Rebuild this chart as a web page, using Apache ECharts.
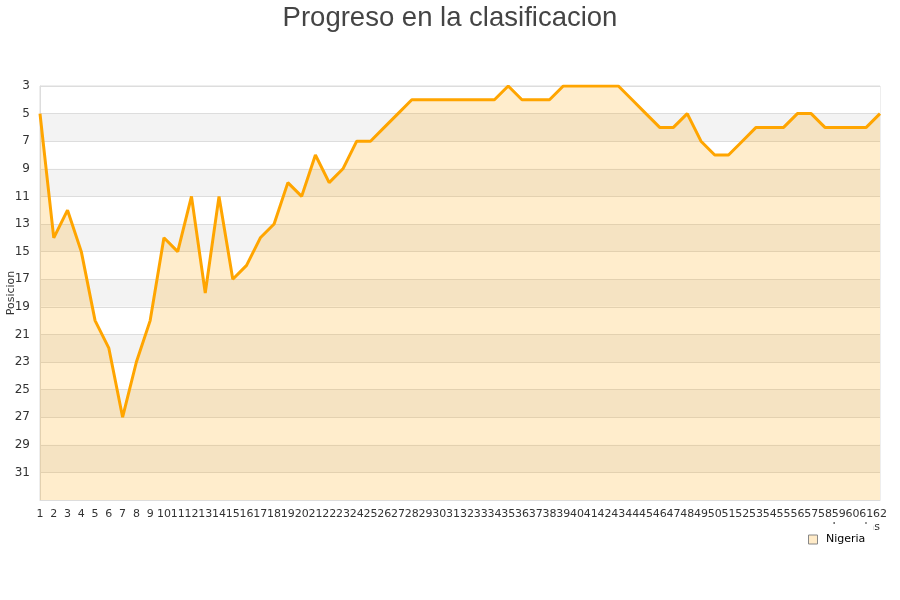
<!DOCTYPE html>
<html>
<head>
<meta charset="utf-8">
<script src="https://cdn.jsdelivr.net/npm/echarts@6/dist/echarts.min.js"></script>
<style>html,body{margin:0;padding:0;background:#fff}#c{width:900px;height:600px}</style>
</head>
<body>
<div id="c"></div>
<script>
var jornadas = [];
for (var i = 1; i <= 62; i++) jornadas.push(String(i));
var nigeria = [5,14,12,15,20,22,27,23,20,14,15,11,18,11,17,16,14,13,10,11,8,10,9,7,7,6,5,4,4,4,4,4,4,4,3,4,4,4,3,3,3,3,3,4,5,6,6,5,7,8,8,7,6,6,6,5,5,6,6,6,6,5];
var chart = echarts.init(document.getElementById('c'));
chart.setOption({
  animation: false,
  title: {
    text: 'Progreso en la clasificacion',
    left: 'center', top: -1,
    textStyle: {fontFamily: 'Liberation Sans, Arial, sans-serif', fontSize: 27.5, fontWeight: 'normal', color: '#444'}
  },
  legend: {
    data: ['Nigeria'],
    left: 802, top: 524,
    backgroundColor: '#fff',
    padding: [10, 8, 3, 6],
    itemWidth: 9, itemHeight: 9, icon: 'rect',
    formatter: ' {name}',
    itemStyle: {color: '#FFEBC8', borderColor: '#888', borderWidth: 1},
    textStyle: {fontFamily: 'DejaVu Sans, sans-serif', fontSize: 11, color: '#000'},
    z: 10
  },
  grid: {left: 40, right: 20, top: 86, bottom: 100, show: true, borderColor: '#ddd', borderWidth: 1, outerBoundsMode: 'none', containLabel: false},
  xAxis: {
    type: 'category', data: jornadas, boundaryGap: false,
    name: 'Jornadas', nameLocation: 'end', nameGap: 0,
    nameTextStyle: {fontFamily: 'DejaVu Sans, sans-serif', fontSize: 11, color: '#333', align: 'right', verticalAlign: 'top', padding: [22, 0, 0, 0]},
    axisLine: {lineStyle: {color: '#ddd'}},
    axisTick: {show: false},
    axisLabel: {interval: 0, fontFamily: 'DejaVu Sans, sans-serif', fontSize: 11, color: '#333', margin: 9},
    splitLine: {show: false}
  },
  yAxis: {
    type: 'value', inverse: true, min: 3, max: 33, interval: 2,
    name: 'Posicion', nameLocation: 'middle', nameGap: 23, nameMoveOverlap: false,
    nameTextStyle: {fontFamily: 'DejaVu Sans, sans-serif', fontSize: 11, color: '#333'},
    axisLine: {show: true, lineStyle: {color: '#ddd'}},
    axisTick: {show: false},
    axisLabel: {fontFamily: 'DejaVu Sans, sans-serif', fontSize: 12, color: '#333', margin: 10, showMaxLabel: false},
    splitLine: {lineStyle: {color: '#ddd'}},
    splitArea: {show: true, areaStyle: {color: ['#ffffff', '#f3f3f3']}}
  },
  series: [{
    name: 'Nigeria', type: 'line', data: nigeria,
    symbol: 'none',
    lineStyle: {color: '#FFA500', width: 3},
    itemStyle: {color: '#FFEBC8'},
    areaStyle: {color: '#FFA500', opacity: 0.2, origin: 'end'}
  }]
});
</script>
</body>
</html>
